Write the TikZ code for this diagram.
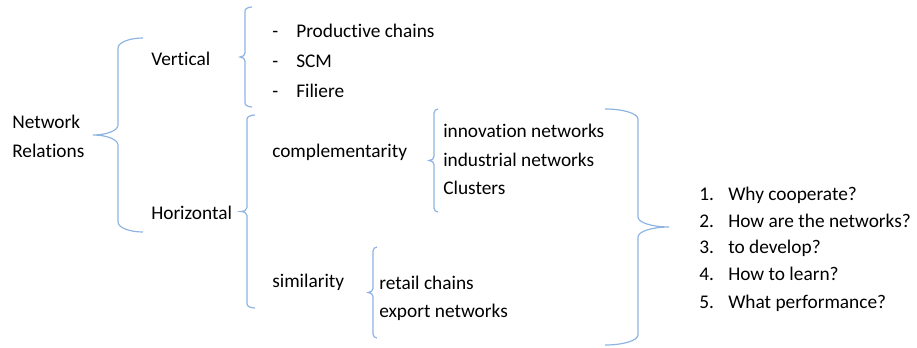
\documentclass[tikz,border=0pt]{standalone}
\usepackage{fontspec}
\setmainfont{Carlito}[Ligatures=NoCommon]
\definecolor{BraceClr}{HTML}{8EB4E3}
\definecolor{TextClr}{HTML}{000000}

% brace: spine x, top y, bottom y, tip x, end x, corner size
\newcommand{\drawBrace}[6]{%
\draw[BraceClr,line width=0.9pt] (#5,#2) .. controls ({#1+0.45*(#5-#1)},#2) and (#1,{#2+0.45*#6}) .. (#1,{#2+#6})
 -- (#1,{(#2+#3)/2-#6}) .. controls (#1,{(#2+#3)/2-0.45*#6}) and ({#4+0.55*(#1-#4)},{(#2+#3)/2}) .. (#4,{(#2+#3)/2})
 .. controls ({#4+0.55*(#1-#4)},{(#2+#3)/2}) and (#1,{(#2+#3)/2+0.45*#6}) .. (#1,{(#2+#3)/2+#6})
 -- (#1,{#3-#6}) .. controls (#1,{#3-0.45*#6}) and ({#1+0.45*(#5-#1)},#3) .. (#5,#3);}

\tikzset{lbl/.style={anchor=base west,inner sep=0pt,text=TextClr,font=\fontsize{14.5}{17}\selectfont}}

\begin{document}
\begin{tikzpicture}[x=0.75pt,y=-0.75pt]
\useasboundingbox (0,0) rectangle (917,347);

\node[lbl] (NR1) at (12,128) {Network};
\node[lbl] (NR2) at (12,157) {Relations};

\drawBrace{118}{38}{232}{93}{143}{10}

\node[lbl] (V) at (151,65) {Vertical};
\node[lbl] (H) at (151,219) {Horizontal};

\drawBrace{245}{7}{107}{240}{252}{4}

\node[lbl] (VD1) at (272,37) {-};
\node[lbl] (VD2) at (272,67) {-};
\node[lbl] (VD3) at (272,97) {-};
\node[lbl] (V1) at (296,37) {Productive chains};
\node[lbl] (V2) at (296,67) {SCM};
\node[lbl] (V3) at (296,97) {Filiere};

\drawBrace{247}{115}{308}{241}{255}{4}

\node[lbl] (C) at (272,157) {complementarity};
\node[lbl] (S) at (272,287) {similarity};

\drawBrace{434}{109}{212}{429}{438}{4}

\node[lbl] (C1) at (443,137) {innovation networks};
\node[lbl] (C2) at (443,166) {industrial networks};
\node[lbl] (C3) at (443,194) {Clusters};

\drawBrace{373}{247}{338}{368}{377}{4}

\node[lbl] (S1) at (379,289) {retail chains};
\node[lbl] (S2) at (379,317) {export networks};

\drawBrace{638}{109}{345}{669}{605}{10}

\node[lbl] (QN1) at (699,200) {1.};
\node[lbl] (QN2) at (699,227) {2.};
\node[lbl] (QN3) at (699,253) {3.};
\node[lbl] (QN4) at (699,280) {4.};
\node[lbl] (QN5) at (699,308) {5.};
\node[lbl] (Q1) at (728,200) {Why cooperate?};
\node[lbl] (Q2) at (728,227) {How are the networks?};
\node[lbl] (Q3) at (728,253) {to develop?};
\node[lbl] (Q4) at (728,280) {How to learn?};
\node[lbl] (Q5) at (728,308) {What performance?};

\end{tikzpicture}
\end{document}
